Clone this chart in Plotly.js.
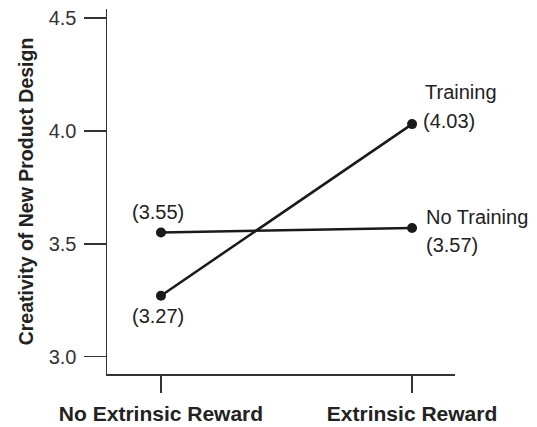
<!DOCTYPE html>
<html>
<head>
<meta charset="utf-8">
<script src="https://cdn.plot.ly/plotly-3.0.1.min.js"></script>
<style>html,body{margin:0;padding:0;background:#fff;}#chart{width:537px;height:427px;}</style>
</head>
<body>
<div id="chart"></div>
<script>
var categories = ['No Extrinsic Reward', 'Extrinsic Reward'];
var seriesNames = ['Training', 'No Training'];
var trainingValues = [3.27, 4.03];
var noTrainingValues = [3.55, 3.57];
var yTickVals = [3.0, 3.5, 4.0, 4.5];
var yTickText = ['3.0', '3.5', '4.0', '4.5'];
var yTitle = 'Creativity of New Product Design';

var FONT = 'Liberation Sans, Arial, Helvetica, sans-serif';
var INK = '#1a1a1a';
var AX = '#333333';

function lineTrace(name, vals) {
  return {
    type: 'scatter', mode: 'lines+markers', name: name,
    x: categories, y: vals,
    line: {color: INK, width: 2.5},
    marker: {color: INK, size: 10},
    showlegend: false, hoverinfo: 'skip'
  };
}

function fmt(v) { return '(' + v.toFixed(2) + ')'; }

var annFont = {family: FONT, size: 20, color: '#222'};
var annotations = [
  {x: categories[1], y: trainingValues[1], text: seriesNames[0], xanchor: 'left', yanchor: 'middle', xshift: 11, yshift: 32},
  {x: categories[1], y: trainingValues[1], text: fmt(trainingValues[1]), xanchor: 'left', yanchor: 'middle', xshift: 9, yshift: 3},
  {x: categories[1], y: noTrainingValues[1], text: seriesNames[1], xanchor: 'left', yanchor: 'middle', xshift: 12, yshift: 11},
  {x: categories[1], y: noTrainingValues[1], text: fmt(noTrainingValues[1]), xanchor: 'left', yanchor: 'middle', xshift: 12, yshift: -17},
  {x: categories[0], y: noTrainingValues[0], text: fmt(noTrainingValues[0]), xanchor: 'center', yanchor: 'middle', xshift: -3, yshift: 20},
  {x: categories[0], y: trainingValues[0], text: fmt(trainingValues[0]), xanchor: 'center', yanchor: 'middle', xshift: -3, yshift: -20}
].map(function (a) {
  a.showarrow = false; a.font = annFont; a.xref = 'x'; a.yref = 'y';
  return a;
});

var layout = {
  width: 537, height: 427,
  margin: {l: 107, r: 82, t: 9, b: 53, pad: 0},
  paper_bgcolor: '#ffffff', plot_bgcolor: '#ffffff',
  font: {family: FONT, color: AX},
  xaxis: {
    type: 'category', categoryorder: 'array', categoryarray: categories,
    range: [-0.215, 1.171], fixedrange: true,
    showline: true, linecolor: AX, linewidth: 1.5,
    ticks: 'outside', ticklen: 17, tickwidth: 1.5, tickcolor: AX,
    tickfont: {family: FONT, size: 21, color: '#222', weight: 700},
    ticklabelstandoff: 3,
    showgrid: false, zeroline: false
  },
  yaxis: {
    range: [2.923, 4.54], fixedrange: true,
    tickvals: yTickVals, ticktext: yTickText,
    showline: true, linecolor: AX, linewidth: 1.5,
    ticks: 'outside', ticklen: 22, tickwidth: 1.5, tickcolor: AX,
    tickfont: {family: FONT, size: 20, color: '#333'},
    ticklabelstandoff: 3,
    showgrid: false, zeroline: false,
    title: {text: yTitle, standoff: 10, font: {family: FONT, size: 19.5, color: '#222', weight: 700}}
  },
  annotations: annotations,
  showlegend: false
};

Plotly.newPlot('chart', [lineTrace(seriesNames[0], trainingValues), lineTrace(seriesNames[1], noTrainingValues)], layout, {staticPlot: true, displayModeBar: false});
</script>
</body>
</html>
